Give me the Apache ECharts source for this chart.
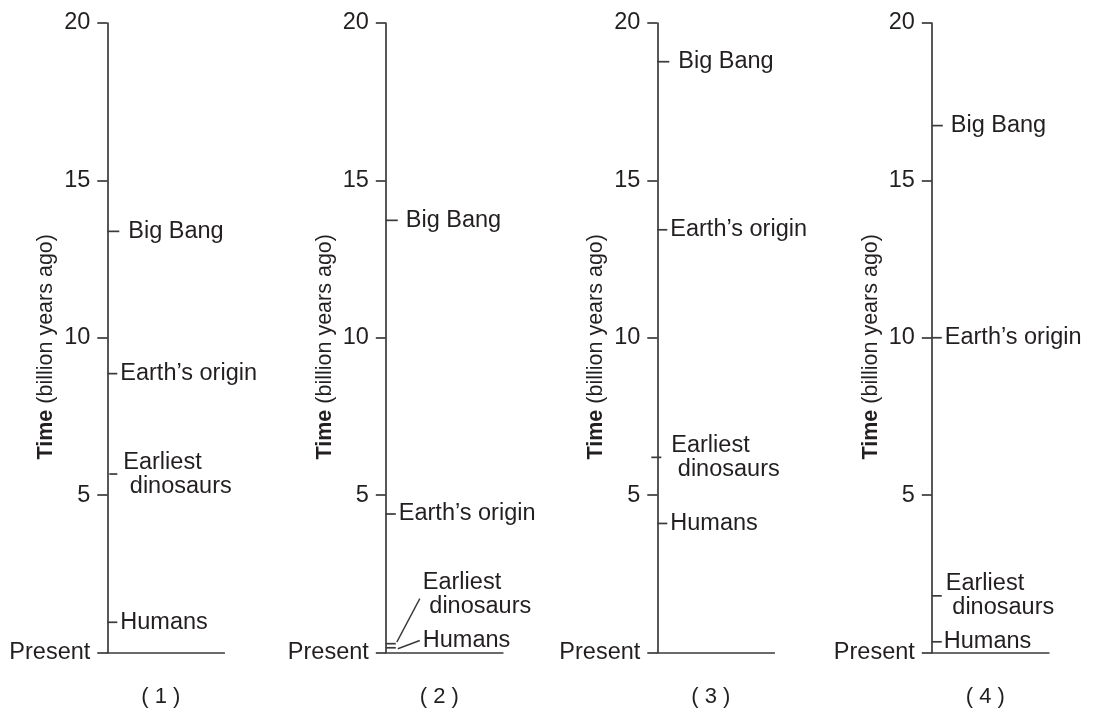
<!DOCTYPE html>
<html>
<head>
<meta charset="utf-8">
<script src="https://cdn.jsdelivr.net/npm/echarts@6/dist/echarts.min.js"></script>
<style>html,body{margin:0;padding:0;background:#fff}#c{width:1095px;height:718px}</style>
</head>
<body>
<div id="c"></div>
<script>
// ---- data ----
const events = ['Big Bang', 'Earth\u2019s origin', 'Earliest dinosaurs', 'Humans'];
const eventLabels = ['Big Bang', 'Earth\u2019s origin', 'Earliest\n dinosaurs', 'Humans'];
const panel1 = [13.38, 8.86, 5.67, 0.96];
const panel2 = [13.73, 4.4, 0.28, 0.15];
const panel3 = [18.77, 13.43, 6.2, 4.1];
const panel4 = [16.74, 10.0, 1.8, 0.34];
const panels = [panel1, panel2, panel3, panel4];
const panelLabels = ['( 1 )', '( 2 )', '( 3 )', '( 4 )'];
const yTickValues = [0, 5, 10, 15, 20];
const yTickLabels = ['Present', '5', '10', '15', '20'];
const axisTitleBold = 'Time';
const axisTitleRest = ' (billion years ago)';

// ---- layout / style ----
const axisX = [107.3, 385.8, 657.3, 931.8];
const TOP = 23, BOTTOM_Y = 652.5, BASE_LEN = 117;
const FONT = 'Liberation Sans, Arial, Helvetica, sans-serif';
const TXT = '#231f20';
const LINE = '#3a3a3a';
const LW = 1.7;
const FS = 23.5;
const defaultMark = {tick: [0, 10], gap: 13, dy: 0};
const overrides = {
  '0|0': {tick: [0, 12], gap: 21},
  '0|2': {tick: [2, 10], gap: 16},
  '1|0': {tick: [0, 12], gap: 20},
  '1|2': {tick: [0, 10], gap: 37, dy: -49, leader: [[11, -1.6], [34, -45]]},
  '1|3': {tick: [0, 10], gap: 37, dy: -7, leader: [[12, 1], [34, -7.3]]},
  '2|0': {tick: [0, 12], gap: 21},
  '2|2': {tick: [-6, 4], gap: 14},
  '3|0': {tick: [0, 11], gap: 19},
  '3|2': {tick: [0, 10], gap: 14},
  '3|3': {tick: [0, 10], gap: 12}
};

const grids = [], xAxes = [], yAxes = [], series = [];
panels.forEach((vals, p) => {
  grids.push({left: axisX[p], top: TOP, width: BASE_LEN, height: BOTTOM_Y - TOP,
              containLabel: false, outerBoundsMode: 'none'});
  xAxes.push({
    gridIndex: p, type: 'value', min: 0, max: 1,
    axisLine: {show: true, onZero: false, lineStyle: {color: LINE, width: LW}},
    axisTick: {show: false}, axisLabel: {show: false}, splitLine: {show: false},
    name: panelLabels[p], nameLocation: 'middle', nameGap: 33, nameMoveOverlap: false,
    nameTextStyle: {fontSize: 22, color: TXT, fontFamily: FONT, padding: [0, 10, 0, 0]}
  });
  yAxes.push({
    gridIndex: p, type: 'value', min: 0, max: 20, interval: 5,
    axisLine: {show: true, onZero: false, lineStyle: {color: LINE, width: LW}},
    axisTick: {show: true, length: 10, inside: false, lineStyle: {color: LINE, width: LW}},
    axisLabel: {
      margin: 17, fontSize: FS, color: TXT, fontFamily: FONT,
      formatter: v => { const i = yTickValues.indexOf(v); return i >= 0 ? yTickLabels[i] : ''; }
    },
    splitLine: {show: false},
    name: '{b|' + axisTitleBold + '}{r|' + axisTitleRest + '}',
    nameLocation: 'middle', nameGap: 50, nameRotate: 90, nameMoveOverlap: false,
    nameTextStyle: {
      padding: [0, 0, 0, -18],
      rich: {
        b: {fontSize: 21.5, fontWeight: 'bold', color: TXT, fontFamily: FONT},
        r: {fontSize: 21.5, color: TXT, fontFamily: FONT}
      }
    }
  });
  series.push({
    type: 'custom', xAxisIndex: p, yAxisIndex: p, silent: true, clip: false,
    data: vals.map((v, i) => [0, v, i]),
    renderItem: (params, api) => {
      const idx = api.value(2);
      const pt = api.coord([0, api.value(1)]);
      const o = Object.assign({}, defaultMark, overrides[p + '|' + idx] || {});
      const children = [{
        type: 'line',
        shape: {x1: pt[0] + o.tick[0], y1: pt[1], x2: pt[0] + o.tick[1], y2: pt[1]},
        style: {stroke: LINE, lineWidth: LW}
      }];
      if (o.leader) {
        children.push({
          type: 'line',
          shape: {x1: pt[0] + o.leader[0][0], y1: pt[1] + o.leader[0][1],
                  x2: pt[0] + o.leader[1][0], y2: pt[1] + o.leader[1][1]},
          style: {stroke: LINE, lineWidth: 1.4}
        });
      }
      children.push({
        type: 'text',
        style: {
          text: eventLabels[idx], x: pt[0] + o.gap, y: pt[1] + o.dy,
          fill: TXT, fontSize: FS, fontFamily: FONT, lineHeight: 24,
          align: 'left', verticalAlign: 'middle'
        }
      });
      return {type: 'group', children};
    }
  });
});

const chart = echarts.init(document.getElementById('c'), null, {renderer: 'canvas'});
chart.setOption({
  backgroundColor: '#ffffff',
  animation: false,
  grid: grids, xAxis: xAxes, yAxis: yAxes, series
});
</script>
</body>
</html>
